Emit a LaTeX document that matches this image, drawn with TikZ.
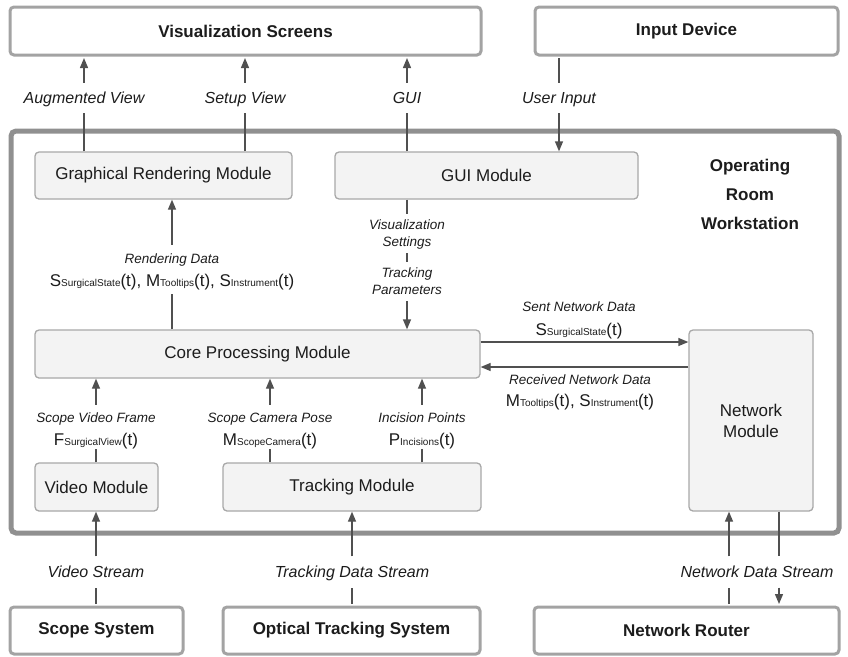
\documentclass[tikz,border=0pt]{standalone}
\usepackage{fontspec}
\setmainfont{Liberation Sans}
\usetikzlibrary{arrows.meta}
\definecolor{extgray}{HTML}{A3A3A3}
\definecolor{orwgray}{HTML}{909090}
\definecolor{modgray}{HTML}{A8A8A8}
\definecolor{modfill}{HTML}{F3F3F3}
\definecolor{arrgray}{HTML}{505050}
\definecolor{txt}{HTML}{1C1C1C}
\newcommand\subx[1]{{\fontsize{10}{12}\selectfont #1}}
\begin{document}
\begin{tikzpicture}[x=1pt,y=-1pt,
  extbox/.style={draw=extgray, line width=3pt, rounded corners=4pt, fill=white, text=txt,
    font=\fontsize{17}{20}\selectfont\bfseries, inner sep=0pt},
  modbox/.style={draw=modgray, line width=1.3pt, rounded corners=4pt, fill=modfill, text=txt,
    font=\fontsize{17}{20}\selectfont, inner sep=0pt, align=center},
  toplab/.style={font=\fontsize{16}{19}\selectfont\itshape, text=txt, inner sep=0pt,
    text height=11.5pt, text depth=0pt, minimum height=#1},
  lab/.style={font=\fontsize{13.5}{16}\selectfont\itshape, text=txt, inner sep=0pt,
    text height=9.7pt, text depth=0pt, minimum height=#1},
  frm/.style={font=\fontsize{17}{20}\selectfont, text=txt, inner sep=0pt,
    text height=12pt, text depth=0pt, minimum height=#1},
  ln/.style={draw=arrgray, line width=1.3pt},
  arr/.style={draw=arrgray, line width=1.3pt, -{Triangle[length=10pt,width=8pt]}},
]
\useasboundingbox (0,0) rectangle (848,656);

% outer workstation
\node[draw=orwgray, line width=5pt, rounded corners=5pt, minimum width=828pt, minimum height=402pt, inner sep=0pt] (orw) at (425,332) {};
\node[font=\fontsize{17}{29}\selectfont\bfseries, text=txt, align=center] (orwl) at (750,194) {Operating\\Room\\Workstation};

% external boxes
\node[extbox, minimum width=471pt, minimum height=48pt] (vis) at (245.5,31) {Visualization Screens};
\node[extbox, minimum width=303pt, minimum height=48pt] (inp) at (686.5,31) {Input Device};
\node[extbox, minimum width=173pt, minimum height=47pt] (scope) at (96.5,630.5) {Scope System};
\node[extbox, minimum width=257pt, minimum height=47pt] (ots) at (351.5,630.5) {Optical Tracking System};
\node[extbox, minimum width=305pt, minimum height=47pt] (router) at (686.5,630.5) {Network Router};

% modules
\node[modbox, minimum width=257pt, minimum height=47pt] (grm) at (163.5,175.5) {Graphical Rendering Module};
\node[modbox, minimum width=303pt, minimum height=47pt] (gui) at (486.5,175.5) {GUI Module};
\node[modbox, minimum width=445pt, minimum height=48pt] (core) at (257.5,354) {Core Processing Module};
\node[modbox, minimum width=124pt, minimum height=181pt, font=\fontsize{17}{21}\selectfont] (net) at (751,420.5) {Network\\Module};
\node[modbox, minimum width=123pt, minimum height=48pt] (vid) at (96.5,487) {Video Module};
\node[modbox, minimum width=258pt, minimum height=48pt] (trk) at (352,487) {Tracking Module};

% top labels
\node[toplab=30pt] (augl) at (84,98) {Augmented View};
\node[toplab=30pt] (setl) at (245,98) {Setup View};
\node[toplab=30pt] (guil) at (407,98) {GUI};
\node[toplab=30pt] (usrl) at (559,98) {User Input};

\draw[arr, shorten >=1.5pt] (augl.north) -- (augl.north |- vis.south);
\draw[ln] (grm.north -| augl) -- (augl.south);
\draw[arr, shorten >=1.5pt] (setl.north) -- (setl.north |- vis.south);
\draw[ln] (grm.north -| setl) -- (setl.south);
\draw[arr, shorten >=1.5pt] (guil.north) -- (guil.north |- vis.south);
\draw[ln] (gui.north -| guil) -- (guil.south);
\draw[ln, shorten <=1.5pt] (inp.south -| usrl) -- (usrl.north);
\draw[arr] (usrl.south) -- (gui.north -| usrl);

% rendering data
\node[lab=28pt] (rdt) at (172,259) {Rendering Data};
\node[frm=28pt] (rdf) at (172,280) {S\subx{SurgicalState}(t), M\subx{Tooltips}(t), S\subx{Instrument}(t)};
\draw[arr] (rdt.north) -- (grm.south -| rdt);
\draw[ln] (core.north -| rdf) -- (rdf.south);

% GUI -> core
\node[lab=22pt] (vs1) at (407,225) {Visualization};
\node[lab=22pt] (vs2) at (407,242) {Settings};
\node[lab=22pt] (tp1) at (407,273) {Tracking};
\node[lab=22pt] (tp2) at (407,290) {Parameters};
\draw[ln] (gui.south -| vs1) -- (vs1.north);
\draw[ln] (vs2.south) -- (tp1.north);
\draw[arr] (tp2.south) -- (core.north -| tp2);

% network data
\node[lab=20pt] (snt) at (579,307) {Sent Network Data};
\node[frm=20pt] (snf) at (579,329) {S\subx{SurgicalState}(t)};
\node[lab=20pt] (rnt) at (580,380) {Received Network Data};
\node[frm=20pt] (rnf) at (580,400) {M\subx{Tooltips}(t), S\subx{Instrument}(t)};
\draw[arr] ([yshift=12pt]core.east) -- ([yshift=12pt]core.east -| net.west);
\draw[arr] ([yshift=-13pt]core.east -| net.west) -- ([yshift=-13pt]core.east);

% inputs to core
\node[lab=26pt] (svt) at (96,418) {Scope Video Frame};
\node[frm=20pt] (svf) at (96,439) {F\subx{SurgicalView}(t)};
\node[lab=26pt] (sct) at (270,418) {Scope Camera Pose};
\node[frm=20pt] (scf) at (270,439) {M\subx{ScopeCamera}(t)};
\node[lab=26pt] (ict) at (422,418) {Incision Points};
\node[frm=20pt] (icf) at (422,439) {P\subx{Incisions}(t)};
\draw[arr] (svt.north) -- (core.south -| svt);
\draw[ln] (vid.north -| svf) -- (svf.south);
\draw[arr] (sct.north) -- (core.south -| sct);
\draw[ln] (trk.north -| scf) -- (scf.south);
\draw[arr] (ict.north) -- (core.south -| ict);
\draw[ln] (trk.north -| icf) -- (icf.south);

% bottom labels
\node[toplab=31pt] (vsl) at (96,572) {Video Stream};
\node[toplab=31pt] (tdl) at (352,572) {Tracking Data Stream};
\node[toplab=31pt] (ndl) at (757,572) {Network Data Stream};
\coordinate (nu) at (729,572);
\coordinate (nd) at (779,572);

\draw[ln, shorten <=1.5pt] (scope.north -| vsl) -- (vsl.south);
\draw[arr] (vsl.north) -- (vid.south -| vsl);
\draw[ln, shorten <=1.5pt] (ots.north -| tdl) -- (tdl.south);
\draw[arr] (tdl.north) -- (trk.south -| tdl);
\draw[ln, shorten <=1.5pt] (router.north -| nu) -- (ndl.south -| nu);
\draw[arr] (ndl.north -| nu) -- (net.south -| nu);
\draw[ln] (net.south -| nd) -- (ndl.north -| nd);
\draw[arr, shorten >=1.5pt] (ndl.south -| nd) -- (router.north -| nd);
\end{tikzpicture}
\end{document}
